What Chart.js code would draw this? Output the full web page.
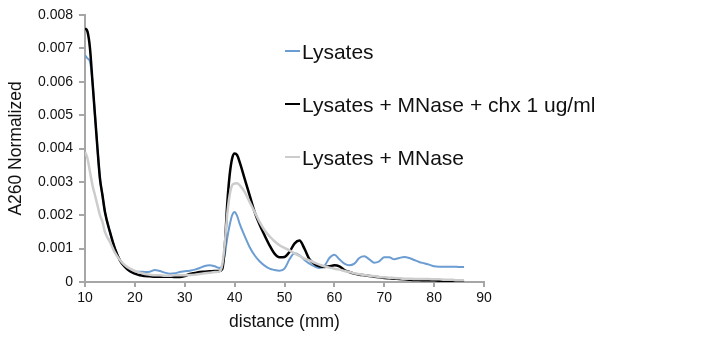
<!DOCTYPE html>
<html>
<head>
<meta charset="utf-8">
<script src="https://cdn.jsdelivr.net/npm/chart.js@4/dist/chart.umd.min.js"></script>
<style>
  html, body { margin: 0; padding: 0; background: #fff; }
  #wrap { width: 720px; height: 345px; position: relative; }
</style>
</head>
<body>
<div id="wrap"><canvas id="profileChart" width="720" height="345"></canvas></div>
<script>
// distance (mm) sampled along the gradient
var distance = [10, 10.5, 11, 11.5, 12, 12.5, 13, 13.5, 14, 15, 16, 17, 18, 19, 20, 21, 22, 23, 24, 25,
  26, 27, 28, 29, 30, 31, 32, 33, 34, 35, 36, 37, 37.5, 38, 38.5, 39, 39.5, 40, 40.5, 41,
  42, 43, 44, 45, 46, 47, 48, 49, 50, 51, 52, 53, 54, 55, 56, 57, 58, 59, 60, 61,
  62, 63, 64, 65, 66, 67, 68, 69, 70, 71, 72, 73, 74, 75, 76, 77, 78, 79, 80, 81,
  82, 83, 84, 85, 86];

var lysates = [0.0068, 0.0067, 0.0066, 0.006, 0.005, 0.004, 0.0031, 0.0026, 0.0021, 0.0015, 0.001, 0.00066, 0.00046, 0.00034, 0.00031, 0.00031, 0.0003, 0.00031, 0.00036, 0.00033,
  0.00028, 0.00025, 0.00026, 0.0003, 0.00032, 0.00034, 0.00037, 0.00042, 0.00048, 0.0005, 0.00047, 0.00042, 0.0005, 0.0008, 0.0013, 0.0017, 0.002, 0.0021, 0.00198, 0.00175,
  0.00138, 0.00105, 0.0008, 0.00062, 0.00049, 0.0004, 0.00036, 0.00034, 0.0004, 0.00068, 0.00086, 0.0008, 0.00066, 0.00055, 0.00047, 0.00042, 0.00048, 0.00072, 0.00082, 0.00068,
  0.00055, 0.0005, 0.00055, 0.00072, 0.00077, 0.00068, 0.00058, 0.00062, 0.00074, 0.00074, 0.00068, 0.00072, 0.00075, 0.00072, 0.00066, 0.0006, 0.00056, 0.00052, 0.00047, 0.00046,
  0.00046, 0.00046, 0.00046, 0.00045, 0.00045];

var lysatesChx = [0.0076, 0.0075, 0.007, 0.006, 0.005, 0.004, 0.0031, 0.0026, 0.0021, 0.0015, 0.001, 0.00065, 0.00045, 0.00032, 0.00025, 0.0002, 0.00018, 0.00017, 0.00016, 0.00016,
  0.00016, 0.00016, 0.00015, 0.00015, 0.00018, 0.00024, 0.00027, 0.0003, 0.00031, 0.00032, 0.00033, 0.00033, 0.00038, 0.001, 0.0023, 0.0032, 0.0037, 0.00385, 0.0038, 0.0036,
  0.0031, 0.0026, 0.0021, 0.00172, 0.0014, 0.0011, 0.00085, 0.00074, 0.00075, 0.0009, 0.00115, 0.00124, 0.001, 0.00068, 0.00054, 0.00047, 0.00045, 0.00047, 0.0005, 0.00047,
  0.00036, 0.0003, 0.00025, 0.00022, 0.0002, 0.00018, 0.00016, 0.00014, 0.00012, 0.00011, 0.0001, 0.00009, 0.00008, 0.00007, 0.00006, 0.00006, 0.00005, 0.00005, 0.00005, 0.00004,
  0.00004, 0.00004, 0.00004, 0.00004, 0.00004];

var lysatesMnase = [0.0039, 0.0037, 0.0033, 0.0029, 0.0026, 0.0023, 0.002, 0.0018, 0.0015, 0.0012, 0.00088, 0.00066, 0.0005, 0.0004, 0.00033, 0.00028, 0.00024, 0.00022, 0.0002, 0.0002,
  0.00019, 0.00019, 0.0002, 0.0002, 0.0002, 0.00021, 0.00022, 0.00024, 0.00026, 0.00028, 0.0003, 0.00032, 0.0005, 0.0011, 0.002, 0.0026, 0.0029, 0.00295, 0.00296, 0.0029,
  0.0027, 0.0024, 0.0021, 0.0018, 0.00155, 0.00137, 0.00122, 0.0011, 0.00102, 0.00095, 0.00086, 0.00078, 0.0007, 0.00065, 0.00058, 0.00052, 0.00047, 0.00043, 0.0004, 0.00037,
  0.00033, 0.0003, 0.00026, 0.00023, 0.00021, 0.00019, 0.00017, 0.00015, 0.00014, 0.00013, 0.00012, 0.00011, 0.0001, 0.0001, 0.00009, 0.00009, 0.00009, 0.00009, 0.00008, 0.00008,
  0.00007, 0.00007, 0.00006, 0.00005, 0.00005];

var seriesNames = ["Lysates", "Lysates + MNase + chx 1 ug/ml", "Lysates + MNase"];

var fontFamily = "'Liberation Sans', Arial, sans-serif";
var axisGray = "#a6a6a6";

function toPoints(values) {
    return distance.map(function(d, i) { return { x: d, y: values[i] }; });
}

// legend drawn inside the plot, like the original
var legendPlugin = {
    id: 'insideLegend',
    afterDraw: function(chart) {
        var ctx = chart.ctx;
        var rows = [53, 106, 159];
        ctx.save();
        ctx.font = "21px " + fontFamily;
        ctx.textBaseline = "middle";
        ctx.fillStyle = "#111";
        chart.data.datasets.forEach(function(ds, i) {
            ctx.strokeStyle = ds.borderColor;
            ctx.lineWidth = 2;
            ctx.beginPath();
            ctx.moveTo(285, rows[i] - 2);
            ctx.lineTo(300, rows[i] - 2);
            ctx.stroke();
            ctx.fillText(ds.label, 302, rows[i]);
        });
        ctx.restore();
    }
};

var ctx = document.getElementById("profileChart");
var myChart = new Chart(ctx, {
    type: 'line',
    data: {
        datasets: [
            {
                label: seriesNames[0],
                data: toPoints(lysates),
                borderColor: "rgb(108,157,210)",
                borderWidth: 2,
                order: 3
            }, {
                label: seriesNames[1],
                data: toPoints(lysatesChx),
                borderColor: "#000000",
                borderWidth: 2.5,
                order: 2
            }, {
                label: seriesNames[2],
                data: toPoints(lysatesMnase),
                borderColor: "rgb(204,204,204)",
                borderWidth: 2.5,
                order: 1
            }
        ]
    },
    options: {
        responsive: false,
        animation: false,
        devicePixelRatio: 1,
        layout: { padding: { top: 15, right: 236, left: 0, bottom: 0 } },
        elements: {
            point: { radius: 0 },
            line: { tension: 0.4, cubicInterpolationMode: 'monotone' }
        },
        plugins: {
            legend: { display: false },
            tooltip: { enabled: false }
        },
        scales: {
            x: {
                type: 'linear',
                min: 10,
                max: 90,
                afterFit: function(scale) { scale.height = 63; },
                ticks: {
                    stepSize: 10,
                    padding: 3,
                    color: "#111",
                    font: { family: fontFamily, size: 14 }
                },
                grid: { drawOnChartArea: false, drawTicks: true, tickLength: 5, color: axisGray, lineWidth: 2 },
                border: { display: true, color: axisGray, width: 2 },
                title: {
                    display: true,
                    text: "distance (mm)",
                    color: "#111",
                    font: { family: fontFamily, size: 17.5 },
                    padding: { top: 0, bottom: 12 }
                }
            },
            y: {
                min: 0,
                max: 0.008,
                afterFit: function(scale) { scale.width = 85; },
                ticks: {
                    stepSize: 0.001,
                    padding: 6,
                    color: "#111",
                    font: { family: fontFamily, size: 14 },
                    callback: function(v) { return v === 0 ? "0" : v.toFixed(3); }
                },
                grid: { drawOnChartArea: false, drawTicks: true, tickLength: 6, color: axisGray, lineWidth: 2 },
                border: { display: true, color: axisGray, width: 2 },
                title: {
                    display: true,
                    text: "A260 Normalized",
                    color: "#111",
                    font: { family: fontFamily, size: 17.5 },
                    padding: { top: 6, bottom: 0 }
                }
            }
        }
    },
    plugins: [legendPlugin]
});
</script>
</body>
</html>
